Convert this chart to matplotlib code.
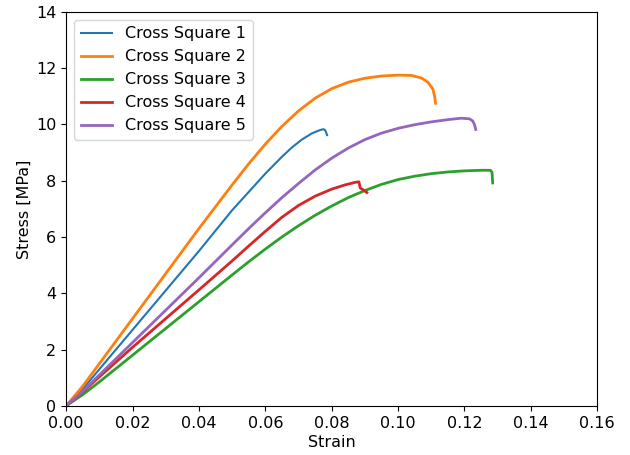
import matplotlib
matplotlib.use("Agg")
import matplotlib.pyplot as plt

labels = ["Cross Square 1", "Cross Square 2", "Cross Square 3", "Cross Square 4", "Cross Square 5"]

strain_1 = [0, 0.005, 0.01, 0.02, 0.03, 0.04, 0.05, 0.055, 0.06, 0.065, 0.068, 0.071, 0.074, 0.0765, 0.0775, 0.0780, 0.0783, 0.0786]
stress_1 = [0, 0.6, 1.3, 2.7, 4.1, 5.5, 6.95, 7.6, 8.25, 8.85, 9.18, 9.46, 9.68, 9.8, 9.83, 9.8, 9.72, 9.62]

strain_2 = [0, 0.005, 0.01, 0.02, 0.03, 0.04, 0.05, 0.055, 0.06, 0.065, 0.07, 0.075, 0.08, 0.085, 0.09, 0.095, 0.1, 0.104, 0.107, 0.109, 0.1105, 0.111, 0.1113]
stress_2 = [0, 0.7, 1.5, 3.1, 4.7, 6.3, 7.85, 8.6, 9.3, 9.93, 10.48, 10.93, 11.27, 11.5, 11.64, 11.72, 11.75, 11.74, 11.65, 11.5, 11.25, 11.0, 10.75]

strain_3 = [0, 0.005, 0.01, 0.02, 0.03, 0.04, 0.05, 0.055, 0.06, 0.065, 0.07, 0.075, 0.08, 0.085, 0.09, 0.095, 0.1, 0.105, 0.11, 0.115, 0.12, 0.125, 0.1278, 0.1283, 0.1284, 0.1285]
stress_3 = [0, 0.4, 0.85, 1.8, 2.75, 3.7, 4.65, 5.12, 5.57, 6.0, 6.4, 6.77, 7.1, 7.4, 7.65, 7.87, 8.04, 8.16, 8.25, 8.31, 8.35, 8.37, 8.37, 8.3, 8.1, 7.92]

strain_4 = [0, 0.005, 0.01, 0.02, 0.03, 0.04, 0.05, 0.055, 0.06, 0.065, 0.07, 0.075, 0.08, 0.084, 0.087, 0.0882, 0.0886, 0.0897, 0.0906]
stress_4 = [0, 0.5, 1.03, 2.08, 3.1, 4.12, 5.15, 5.68, 6.2, 6.7, 7.12, 7.45, 7.7, 7.85, 7.94, 7.96, 7.74, 7.66, 7.58]

strain_5 = [0, 0.005, 0.01, 0.02, 0.03, 0.04, 0.05, 0.055, 0.06, 0.065, 0.07, 0.075, 0.08, 0.085, 0.09, 0.095, 0.1, 0.105, 0.11, 0.115, 0.119, 0.1215, 0.1225, 0.123, 0.1234]
stress_5 = [0, 0.52, 1.1, 2.25, 3.4, 4.55, 5.72, 6.3, 6.86, 7.4, 7.9, 8.38, 8.8, 9.16, 9.46, 9.69, 9.86, 9.99, 10.09, 10.17, 10.22, 10.2, 10.12, 10.0, 9.82]

series = [(strain_1, stress_1), (strain_2, stress_2), (strain_3, stress_3),
          (strain_4, stress_4), (strain_5, stress_5)]
colors = ["#1f77b4", "#ff7f0e", "#2ca02c", "#d62728", "#9467bd"]
widths = [1.5, 2, 2, 2, 2]

plt.rcParams["font.size"] = 11.5

fig = plt.figure(figsize=(6.3, 4.55), dpi=100)
ax = fig.add_axes([0.105, 0.108, 0.843, 0.866])
for (x, y), lab, c, w in zip(series, labels, colors, widths):
    ax.plot(x, y, color=c, lw=w, label=lab)

ax.set_xlim(0, 0.16)
ax.set_ylim(0, 14)
ax.set_xticks([0, 0.02, 0.04, 0.06, 0.08, 0.10, 0.12, 0.14, 0.16])
ax.set_xticklabels(["0.00", "0.02", "0.04", "0.06", "0.08", "0.10", "0.12", "0.14", "0.16"])
ax.set_yticks([0, 2, 4, 6, 8, 10, 12, 14])
ax.set_xlabel("Strain", labelpad=3)
ax.set_ylabel("Stress [MPa]", labelpad=3)
ax.legend(loc="upper left")
fig.savefig("out.png", dpi=100)
